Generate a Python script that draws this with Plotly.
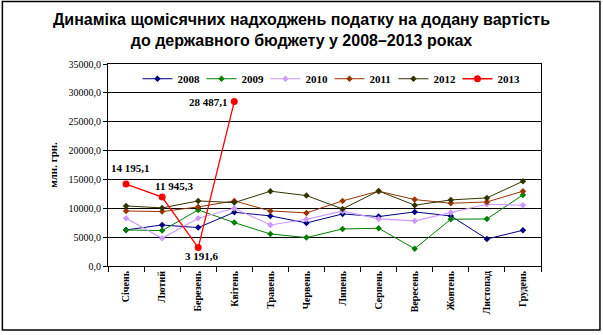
import plotly.graph_objects as go

months = ["Січень", "Лютий", "Березень", "Квітень", "Травень", "Червень",
          "Липень", "Серпень", "Вересень", "Жовтень", "Листопад", "Грудень"]

y2008 = [6250, 7110, 6650, 9310, 8680, 7460, 9020, 8560, 9370, 8680, 4680, 6190]
y2009 = [6250, 6130, 9720, 7520, 5550, 4920, 6420, 6530, 3000, 8100, 8150, 12320]
y2010 = [8270, 4800, 8270, 10000, 7110, 8100, 9490, 8150, 7810, 9250, 10700, 10530]
y2011 = [9540, 9430, 10240, 11280, 9540, 9200, 11280, 12960, 11510, 10870, 11100, 12960]
y2012 = [10410, 10063, 11277, 10983, 12960, 12200, 9890, 13010, 10530, 11450, 11800, 14690]
y2013 = [14195.1, 11945.3, 3191.6, 28487.1]

label2013 = ["14 195,1", "11 945,3", "3 191,6", "28 487,1"]

ytickvals = [0, 5000, 10000, 15000, 20000, 25000, 30000, 35000]
yticktext = ["0,0", "5000,0", "10000,0", "15000,0", "20000,0", "25000,0", "30000,0", "35000,0"]

serif = "Liberation Serif, Times New Roman, serif"

series = [
    ("2008", y2008, "#000080", "diamond", 5, 1),
    ("2009", y2009, "#008000", "diamond", 5, 1),
    ("2010", y2010, "#CC99FF", "diamond", 5, 1.2),
    ("2011", y2011, "#993300", "diamond", 5, 1),
    ("2012", y2012, "#333300", "diamond", 5, 1),
]

fig = go.Figure()
for name, ys, col, sym, ms, lw in series:
    fig.add_trace(go.Scatter(x=months, y=ys, name=name, mode="lines+markers",
                             line=dict(color=col, width=lw),
                             marker=dict(color=col, symbol=sym, size=ms)))
fig.add_trace(go.Scatter(x=months[:len(y2013)], y=y2013, name="2013", mode="lines+markers",
                         line=dict(color="#FF0000", width=1.3),
                         marker=dict(color="#FF0000", symbol="circle", size=7)))

shifts = [(4, 16), (12, 11), (4, -8), (-26, 0)]
for i, (v, t) in enumerate(zip(y2013, label2013)):
    dx, dy = shifts[i]
    fig.add_annotation(x=months[i], y=v, text="<b>" + t + "</b>", showarrow=False,
                       xshift=dx, yshift=dy,
                       font=dict(family=serif, size=11, color="black"))

fig.add_shape(type="rect", xref="paper", yref="paper",
              x0=(2 - 107.7) / 433.3, x1=(600 - 107.7) / 433.3,
              y0=(266 - 330) / 201.7, y1=(266 - 2) / 201.7,
              line=dict(color="black", width=1.5), layer="below")

fig.update_layout(
    width=603, height=335,
    margin=dict(l=108, r=62, t=64, b=69, autoexpand=False),
    paper_bgcolor="white", plot_bgcolor="white",
    title=dict(text="<b>Динаміка щомісячних надходжень податку на додану вартість<br>до державного бюджету у 2008–2013 роках</b>",
               x=0.5, xanchor="center", xref="container", y=1 - 25 / 335, yanchor="middle", yref="container",
               font=dict(family="Liberation Sans, Arial, sans-serif", size=16, color="black")),
    showlegend=True,
    legend=dict(orientation="h", x=0.068, y=0.927, xanchor="left", yanchor="middle",
                bgcolor="rgba(0,0,0,0)", font=dict(family=serif, size=11, color="black", weight="bold"),
                entrywidth=19, entrywidthmode="pixels", itemwidth=30),
    xaxis=dict(type="category", range=[-0.5, 11.5], autorange=False, tickangle=-90,
               tickson="boundaries", ticks="outside",
               ticklen=5, tickcolor="black", showline=True, linecolor="black", linewidth=1,
               mirror=True, showgrid=False, automargin=False,
               tickfont=dict(family=serif, size=10, color="black")),
    yaxis=dict(range=[0, 35000], tickvals=ytickvals, ticktext=yticktext, ticks="outside",
               ticklen=4, tickcolor="black", showline=True, linecolor="black", linewidth=1,
               mirror=True, showgrid=True, gridcolor="black", gridwidth=1, zeroline=False,
               automargin=False,
               tickfont=dict(family=serif, size=10, color="black"),
               title=dict(text="<b>млн. грн.</b>", standoff=8,
                          font=dict(family=serif, size=11, color="black"))),
)
fig.update_yaxes(tickprefix="<b>", ticksuffix="</b>")
fig.update_xaxes(tickprefix="<b>", ticksuffix="</b>")

fig.write_html("out.html")
